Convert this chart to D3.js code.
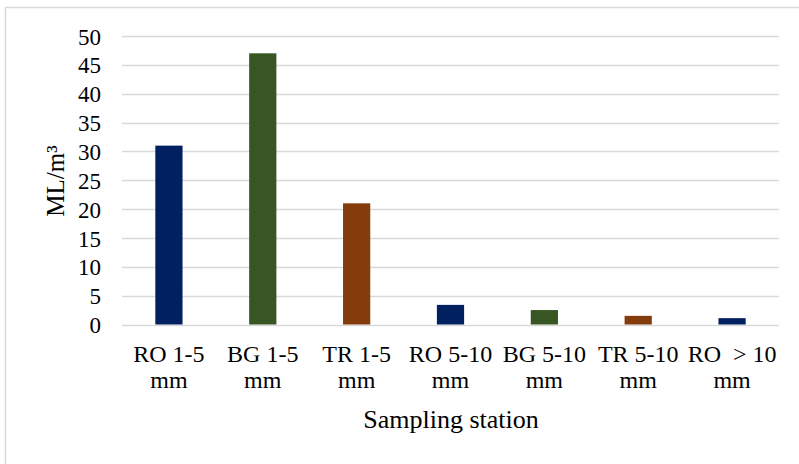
<!DOCTYPE html>
<html><head><meta charset="utf-8">
<script src="https://cdn.jsdelivr.net/npm/d3@7"></script>
<style>body{margin:0;background:#fff}svg{display:block}text{font-family:"Liberation Serif","Times New Roman",serif;fill:#000}</style>
</head><body><svg id="c" width="799" height="464"></svg>
<script>
const categories = [["RO 1-5","mm"],["BG 1-5","mm"],["TR 1-5","mm"],["RO 5-10","mm"],["BG 5-10","mm"],["TR 5-10","mm"],["RO  > 10","mm"]];
const values = [31, 47, 21, 3.4, 2.5, 1.5, 1.1];
const colors = ["#002060","#375623","#843C0C","#002060","#375623","#843C0C","#002060"];
const yTicks = [0,5,10,15,20,25,30,35,40,45,50];
const yTitle = "ML/m³";
const xTitle = "Sampling station";

const FONT = "Liberation Serif";
const svg = d3.select("#c");
const m = {l:122, r:779, t:36, b:324.5};
svg.append("path").attr("d","M5.5,464V7.5H799").attr("fill","none").attr("stroke","#d9d9d9").attr("stroke-width",1.5);

const x = d3.scaleBand().domain(d3.range(values.length)).range([m.l,m.r]).paddingInner(0.71).paddingOuter(0.355);
const y = d3.scaleLinear().domain([0,50]).range([m.b,m.t]);

const g = svg.append("g");
g.selectAll("line.grid").data(yTicks).join("line").attr("class","grid")
  .attr("x1",m.l).attr("x2",m.r).attr("y1",d=>Math.round(y(d))+0.5).attr("y2",d=>Math.round(y(d))+0.5)
  .attr("stroke","#d9d9d9").attr("stroke-width",1.5);

const yAxis = d3.axisLeft(y).tickValues(yTicks).tickSize(0).tickPadding(0);
const ya = svg.append("g").attr("transform",`translate(101,0)`).call(yAxis);
ya.attr("font-family",FONT);
ya.select(".domain").remove();
ya.selectAll("text").style("font-size","23px").style("font-family",FONT).attr("fill","#000").attr("dy","0.35em");

g.selectAll("rect").data(values).join("rect")
  .attr("x",(d,i)=>x(i)).attr("width",x.bandwidth())
  .attr("y",d=>y(d)).attr("height",d=>y(0)-y(d))
  .attr("fill",(d,i)=>colors[i]);

const xa = svg.append("g");
categories.forEach((c,i)=>{
  const cx = x(i)+x.bandwidth()/2;
  const t = xa.append("text").attr("x",cx).attr("text-anchor","middle")
    .style("font-size","24px").style("font-family",FONT).style("white-space","pre");
  t.append("tspan").attr("x",cx).attr("y",362).text(c[0]);
  t.append("tspan").attr("x",cx).attr("y",388).text(c[1]);
});

svg.append("text").attr("x",451).attr("y",428).attr("text-anchor","middle").style("font-family",FONT).style("font-size","26px").text(xTitle);
svg.append("text").attr("transform","translate(64,181) rotate(-90)").attr("text-anchor","middle").style("font-family",FONT).style("font-size","25px").text(yTitle);
</script></body></html>
